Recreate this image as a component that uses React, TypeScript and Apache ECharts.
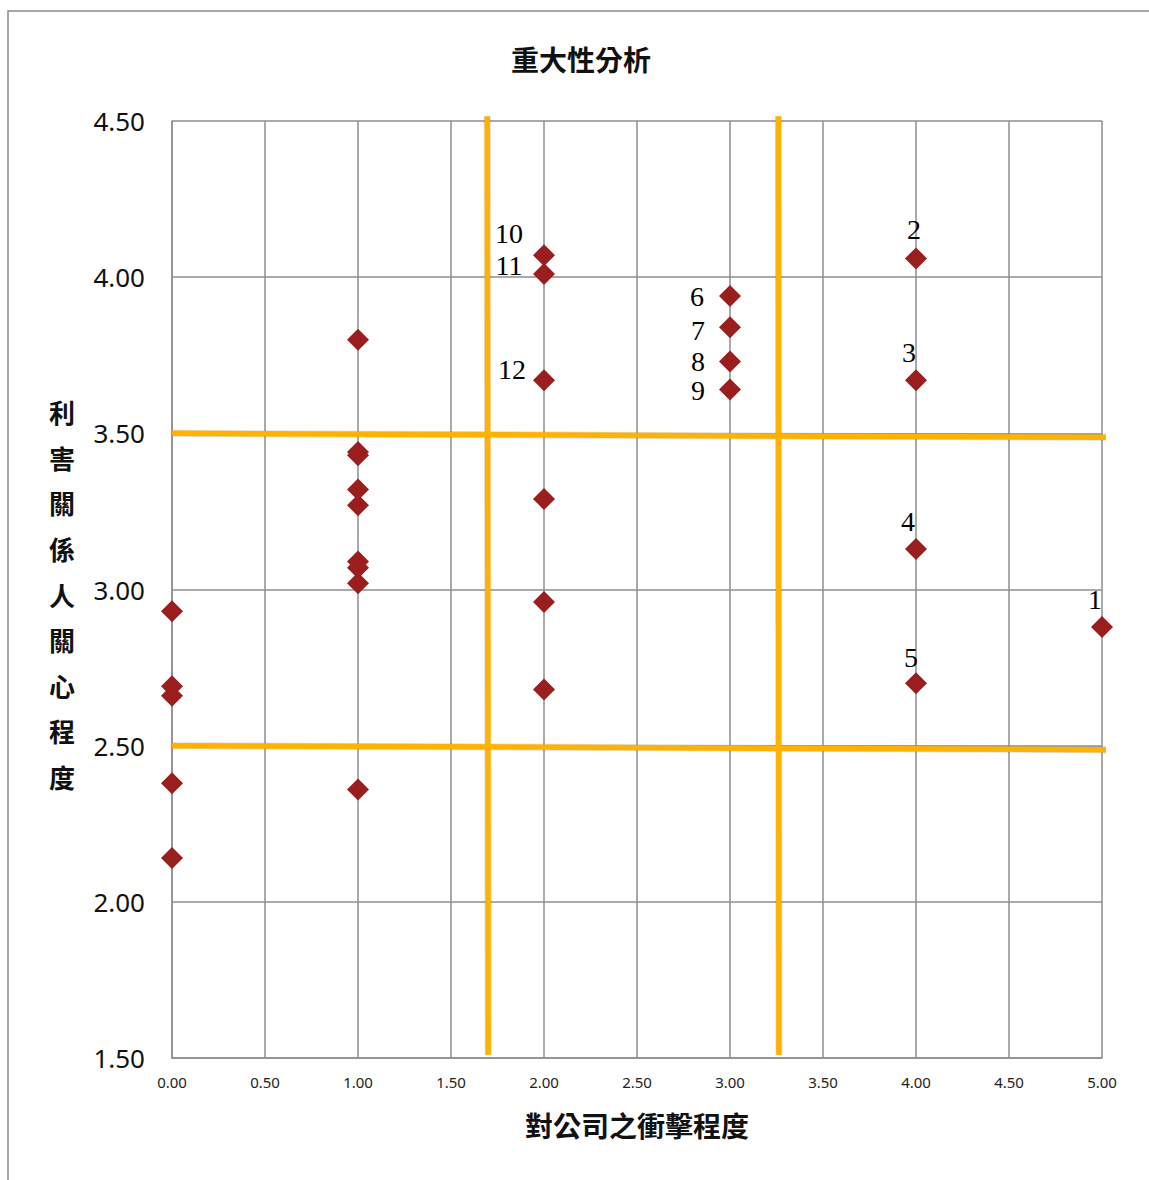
import React, { useEffect, useRef } from "react";
import * as echarts from "echarts";

const xValues = [0, 0, 0, 0, 0, 1, 1, 1, 1, 1, 1, 1, 1, 1, 2, 2, 2, 2, 2, 2, 3, 3, 3, 3, 4, 4, 4, 4, 5];
const yValues = [2.93, 2.69, 2.66, 2.38, 2.14, 3.8, 3.44, 3.43, 3.32, 3.27, 3.09, 3.07, 3.02, 2.36, 4.07, 4.01, 3.67, 3.29, 2.96, 2.68, 3.94, 3.84, 3.73, 3.64, 4.06, 3.67, 3.13, 2.7, 2.88];
const pointLabels = ["", "", "", "", "", "", "", "", "", "", "", "", "", "", "10", "11", "12", "", "", "", "6", "7", "8", "9", "2", "3", "4", "5", "1"];
const labelOffsets: Record<string, number[]> = {
  "1": [-7, -27], "2": [-2, -29], "3": [-7, -28], "4": [-8, -27], "5": [-5, -26],
  "6": [-33, 1], "7": [-32, 3], "8": [-32, 0], "9": [-32, 1],
  "10": [-35, -22], "11": [-35, -9], "12": [-32, -11],
};
// threshold lines (x = const from top to bottom, y = const from left to right)
const xThresholdLines = [
  [[1.695, 4.515], [1.7, 1.51]],
  [[3.26, 4.515], [3.263, 1.51]],
];
const yThresholdLines = [
  [[0, 3.5], [5.06, 3.487]],
  [[0, 2.5], [5.06, 2.487]],
];

const title = "重大性分析";
const xName = "對公司之衝擊程度";
const yName = "利害關係人關心程度";

export default function App() {
  const ref = useRef<HTMLDivElement>(null);
  useEffect(() => {
    const chart = echarts.init(ref.current!, null, { renderer: "svg" });
    const data = xValues.map((x, i) => {
      const lab = pointLabels[i];
      return {
        value: [x, yValues[i]],
        name: lab,
        label: lab
          ? { show: true, position: "inside", offset: labelOffsets[lab], formatter: lab }
          : { show: false },
      };
    });
    const orange = "#FFB300";
    const lines = [...xThresholdLines, ...yThresholdLines];
    const shadowSeries = lines.map((pts) => ({
      type: "line",
      data: pts,
      clip: false,
      showSymbol: false,
      symbol: "none",
      silent: true,
      z: 1,
      lineStyle: { color: "rgba(0,0,0,0.12)", width: 7 },
    }));
    const lineSeries = lines.map((pts) => ({
      type: "line",
      data: pts,
      clip: false,
      showSymbol: false,
      symbol: "none",
      silent: true,
      z: 2,
      lineStyle: { color: orange, width: 5.5 },
    }));
    chart.setOption({
      animation: false,
      backgroundColor: "#fff",
      title: {
        text: title,
        left: 576,
        textAlign: "center",
        top: 40,
        textStyle: { fontFamily: "Noto Sans CJK TC", fontSize: 28, fontWeight: "bold", color: "#111" },
      },
      graphic: [
        {
          type: "rect",
          shape: { x: 8, y: 11, width: 1300, height: 1300 },
          style: { fill: "none", stroke: "#8a8a8a", lineWidth: 1.5 },
          silent: true,
        },
        {
          type: "text",
          x: 62,
          y: 594,
          style: {
            text: yName.split("").join("\n"),
            fontFamily: "Noto Sans CJK TC",
            fontSize: 26,
            fontWeight: "bold",
            lineHeight: 45.6,
            align: "center",
            verticalAlign: "middle",
            fill: "#111",
          },
        },
      ],
      grid: { left: 172, right: 47, top: 121, bottom: 122 },
      xAxis: {
        type: "value",
        min: 0,
        max: 5,
        interval: 0.5,
        name: xName,
        nameLocation: "middle",
        nameGap: 53,
        nameTextStyle: { fontFamily: "Noto Sans CJK TC", fontSize: 28, fontWeight: "bold", color: "#111" },
        axisLine: { show: true, lineStyle: { color: "#8e8e8e", width: 1.5 } },
        axisTick: { show: false },
        splitLine: { show: true, lineStyle: { color: "#8e8e8e", width: 1.5 } },
        axisLabel: {
          margin: 16,
          fontFamily: "Noto Sans",
          fontSize: 15,
          color: "#222",
          formatter: (v: number) => v.toFixed(2),
        },
      },
      yAxis: {
        type: "value",
        min: 1.5,
        max: 4.5,
        interval: 0.5,
        axisLine: { show: true, lineStyle: { color: "#8e8e8e", width: 1.5 } },
        axisTick: { show: false },
        splitLine: { show: true, lineStyle: { color: "#8e8e8e", width: 1.5 } },
        axisLabel: {
          margin: 27,
          fontFamily: "Noto Sans",
          fontSize: 26,
          color: "#111",
          formatter: (v: number) => v.toFixed(2),
        },
      },
      series: [
        ...shadowSeries,
        ...lineSeries,
        {
          type: "scatter",
          symbol: "diamond",
          symbolSize: 22,
          z: 3,
          itemStyle: { color: "#9B1E1E", opacity: 1 },
          label: {
            fontFamily: "Liberation Serif",
            fontSize: 28,
            color: "#000",
          },
          data,
        },
      ],
    });
    return () => chart.dispose();
  }, []);
  return (
    <div
      ref={ref}
      style={{ position: "absolute", left: 0, top: 0, width: 1149, height: 1180 }}
    />
  );
}
